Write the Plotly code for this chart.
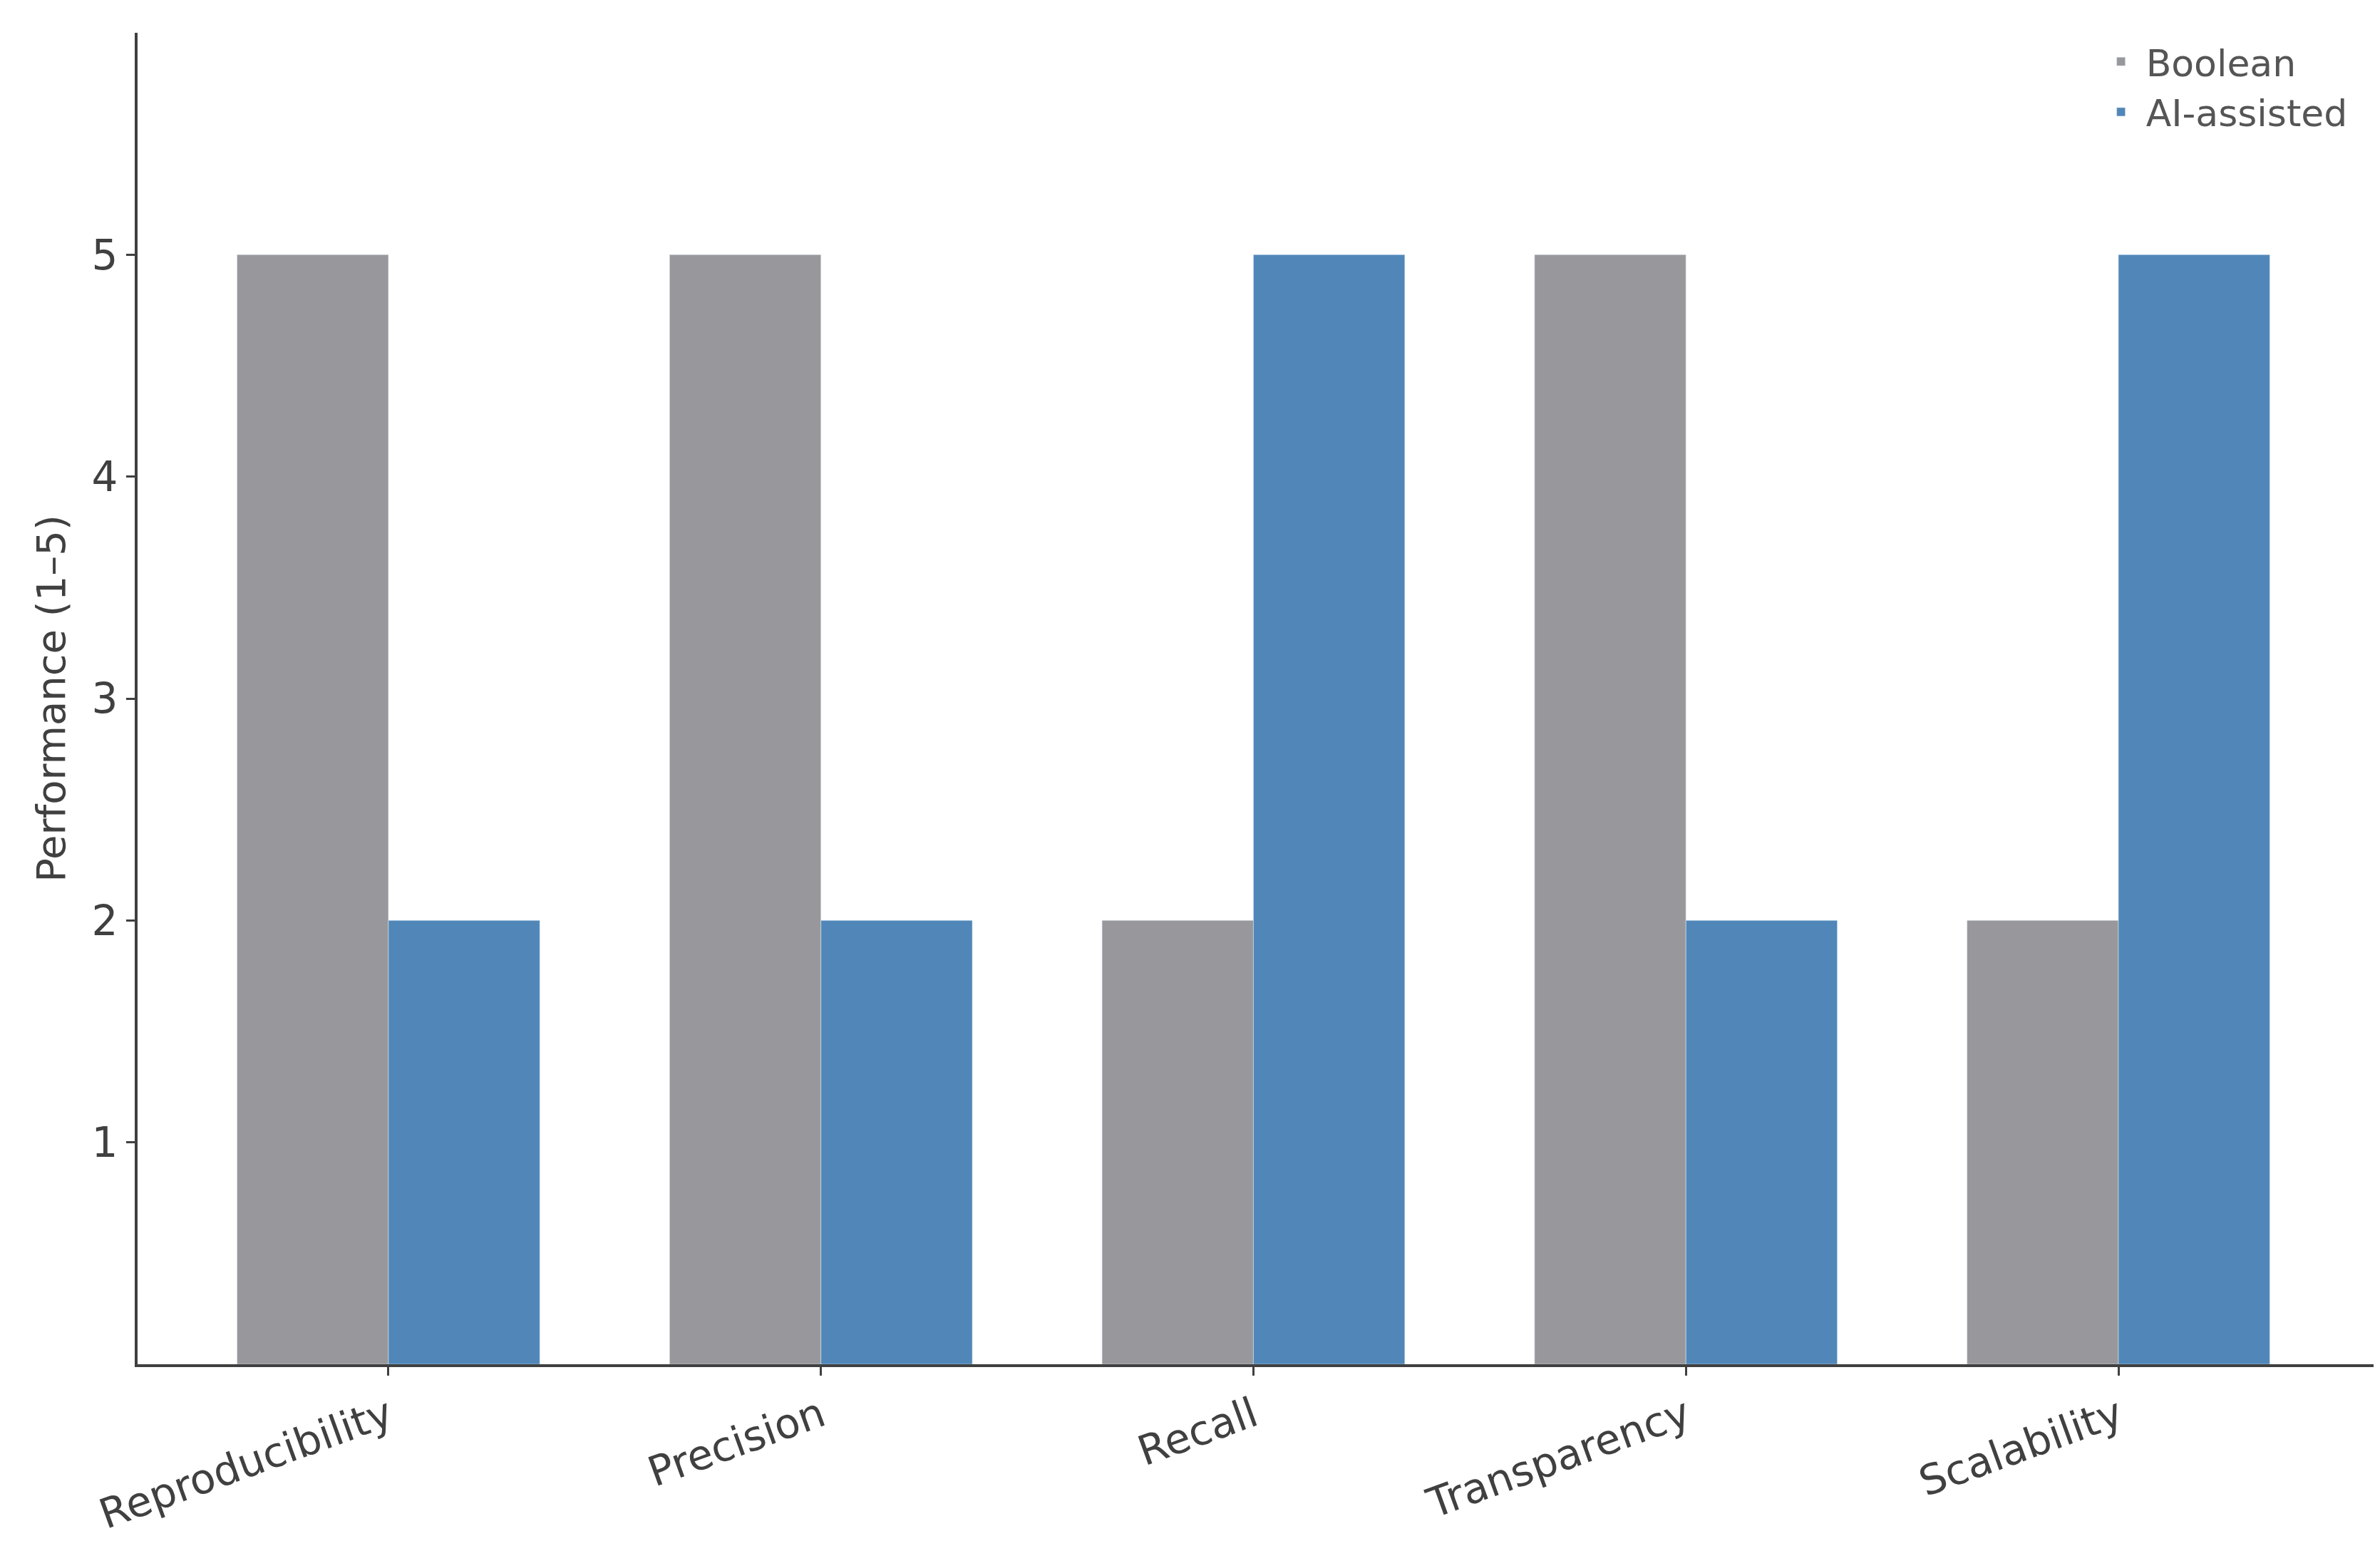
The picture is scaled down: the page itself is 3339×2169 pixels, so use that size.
import plotly.graph_objects as go

categories = ["Reproducibility", "Precision", "Recall", "Transparency", "Scalability"]
boolean_scores = [5, 5, 2, 5, 2]
ai_scores = [2, 2, 5, 2, 5]

font = "DejaVu Sans"
ink = "#404040"

fig = go.Figure()
fig.add_bar(x=categories, y=boolean_scores, name="Boolean", marker_color="#98989c",
            offset=-0.35, width=0.35)
fig.add_bar(x=categories, y=ai_scores, name="AI-assisted", marker_color="#5087b8",
            offset=0, width=0.35)

fig.update_layout(
    width=3339, height=2169,
    margin=dict(l=185, r=17, t=38, b=263),
    plot_bgcolor="white", paper_bgcolor="white",
    font=dict(family=font, size=56, color=ink),
    showlegend=True,
    legend=dict(x=0.99, y=1.0, xanchor="right", yanchor="top",
                font=dict(size=52, color="#555555"), bgcolor="rgba(0,0,0,0)",
                itemwidth=60),
    xaxis=dict(range=[-0.58, 4.59], showline=True, linecolor=ink, linewidth=4,
               ticks="outside", ticklen=12, tickwidth=3, tickcolor=ink,
               tickangle=-20, tickfont=dict(size=58), showgrid=False),
    yaxis=dict(range=[0, 6], tickvals=[1, 2, 3, 4, 5], showline=True, linecolor=ink,
               linewidth=4, ticks="outside", ticklen=12, tickwidth=3, tickcolor=ink,
               tickfont=dict(size=58), showgrid=False, zeroline=False,
               title=dict(text="Performance (1–5)", font=dict(size=56), standoff=20)),
)

fig.write_html("out.html")
